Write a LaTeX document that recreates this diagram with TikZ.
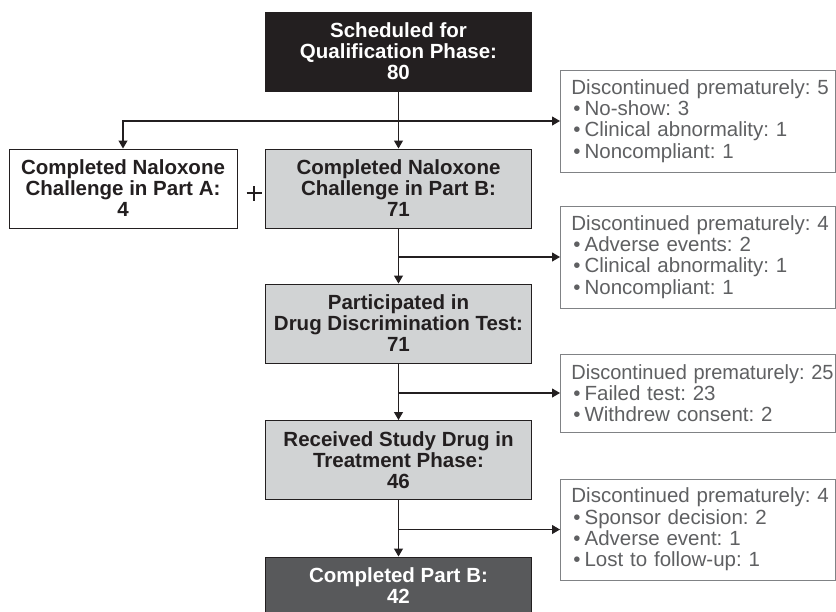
\documentclass[tikz,border=0pt]{standalone}
\usepackage{graphicx}
\usepackage{fontspec}
\setmainfont{Liberation Sans}
\usetikzlibrary{arrows.meta}
\definecolor{ink}{HTML}{231F20}
\definecolor{lightbox}{HTML}{D1D3D4}
\definecolor{darkbox}{HTML}{58595B}
\definecolor{graytext}{HTML}{5F6062}
\definecolor{grayline}{HTML}{808285}
\tikzset{
  mainbox/.style={draw=ink, line width=1pt, minimum width=266pt, minimum height=79pt,
    inner sep=0pt, align=center, font=\fontsize{20.5}{21}\selectfont\bfseries, text=ink},
  discbox/.style={draw=grayline, line width=0.8pt, text width=253pt, inner xsep=11pt,
    inner ysep=0pt, align=left, font=\fontsize{20.5}{21.3}\selectfont\frenchspacing, text=graytext, anchor=west},
  flow/.style={draw=ink, line width=1.1pt, -{Triangle[width=9pt,length=8pt]}},
  plusline/.style={draw=ink, line width=1.3pt},
}
\newcommand{\bul}{\hspace*{2pt}\textbullet\hspace{4pt}}
\hfuzz=50pt
\begin{document}
\begin{tikzpicture}[x=1pt,y=-1pt]
\clip (0,0) rectangle (836,611);
\fill[white] (0,0) rectangle (836,611);

\node[mainbox, fill=ink, text=white] (top) at (398.5,51.5) {Scheduled for\\Qualification Phase:\\80};
\node[mainbox, fill=white, minimum width=228pt] (partA) at (123,188.5) {Completed Naloxone\\Challenge in Part A:\\4};
\node[mainbox, fill=lightbox] (partB) at (398.5,188.5) {Completed Naloxone\\Challenge in Part B:\\71};
\node[mainbox, fill=lightbox] (ddt) at (398.5,323.5) {Participated in\\Drug Discrimination Test:\\71};
\node[mainbox, fill=lightbox] (recv) at (398.5,460) {Received Study Drug in\\Treatment Phase:\\46};
\node[mainbox, fill=darkbox, text=white, minimum height=58pt] (done) at (398.5,586) {Completed Part B:\\42};

\node[discbox, minimum height=102pt] (d1) at (560,121) {\mbox{Discontinued prematurely: 5}\\\bul No-show: 3\\\bul Clinical abnormality: 1\\\bul Noncompliant: 1};
\node[discbox, minimum height=102pt] (d2) at (560,257) {\mbox{Discontinued prematurely: 4}\\\bul Adverse events: 2\\\bul Clinical abnormality: 1\\\bul Noncompliant: 1};
\node[discbox, minimum height=78pt] (d3) at (560,393) {\scalebox{0.975}[1]{Discontinued prematurely: 25}\\\bul Failed test: 23\\\bul Withdrew consent: 2};
\node[discbox, minimum height=101pt] (d4) at (560,529.5) {\mbox{Discontinued prematurely: 4}\\\bul Sponsor decision: 2\\\bul Adverse event: 1\\\bul Lost to follow-up: 1};

\draw[flow] (top.south) -- (partB.north);
\draw[flow] (top.south |- d1.west) -| (partA.north);
\draw[flow] (top.south |- d1.west) -- (d1.west);

\draw[flow] (partB.south) -- (ddt.north);
\draw[flow] (partB.south |- d2.west) -- (d2.west);

\draw[flow] (ddt.south) -- (recv.north);
\draw[flow] (ddt.south |- d3.west) -- (d3.west);

\draw[flow] (recv.south) -- (done.north);
\draw[flow] (recv.south |- d4.west) -- (d4.west);

\coordinate (plus) at (254,193);
\draw[plusline] ([xshift=-7.5pt]plus) -- ([xshift=7.5pt]plus);
\draw[plusline] ([yshift=-7.5pt]plus) -- ([yshift=7.5pt]plus);
\end{tikzpicture}
\end{document}
